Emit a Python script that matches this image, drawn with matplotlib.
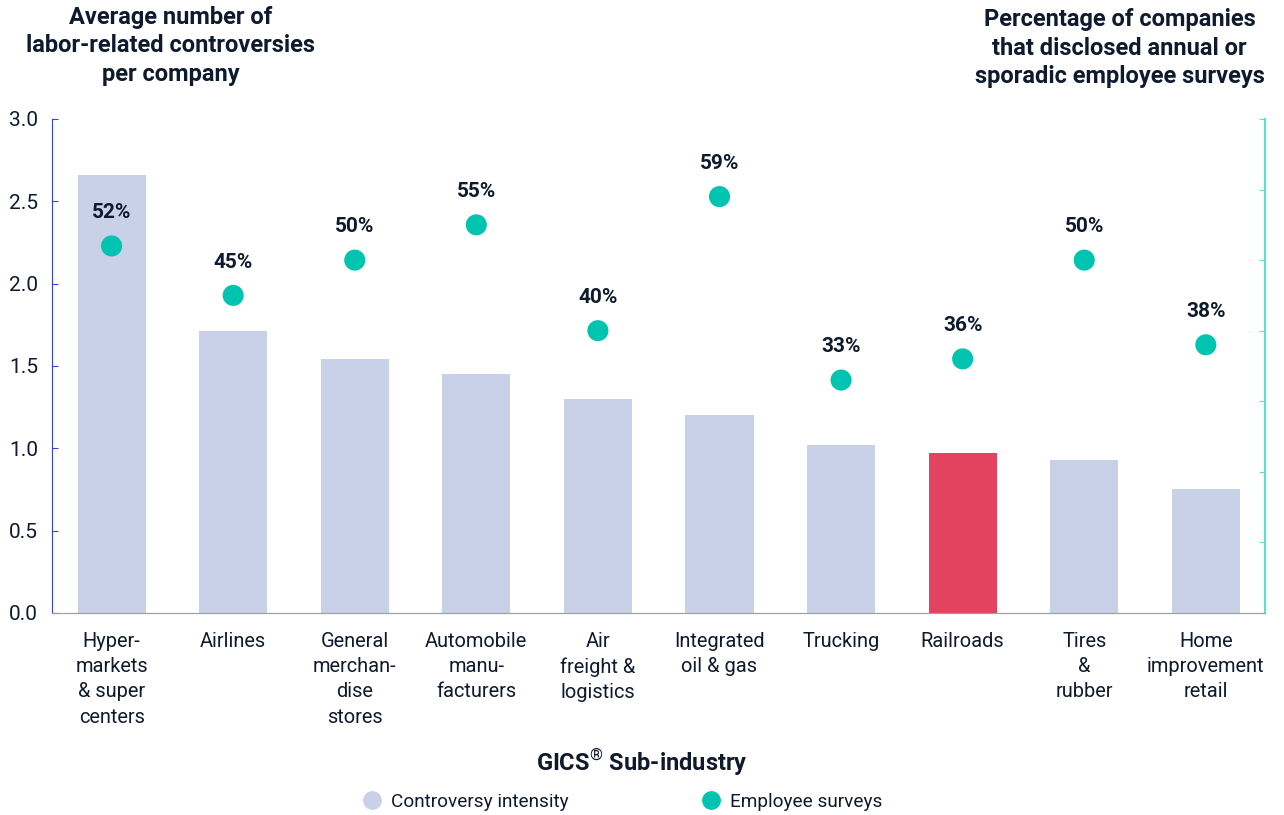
import matplotlib.pyplot as plt
from matplotlib.lines import Line2D

plt.rcParams['font.family'] = ['Roboto', 'DejaVu Sans']
plt.rcParams['mathtext.fontset'] = 'custom'
plt.rcParams['mathtext.rm'] = 'Roboto'
plt.rcParams['mathtext.bf'] = 'Roboto:bold'

categories = ['Hyper-\nmarkets\n& super\ncenters', 'Airlines', 'General\nmerchan-\ndise\nstores',
              'Automobile\nmanu-\nfacturers', 'Air\nfreight &\nlogistics', 'Integrated\noil & gas',
              'Trucking', 'Railroads', 'Tires\n&\nrubber', 'Home\nimprovement\nretail']
controversy = [2.66, 1.71, 1.54, 1.45, 1.30, 1.20, 1.02, 0.97, 0.93, 0.75]
surveys = [52, 45, 50, 55, 40, 59, 33, 36, 50, 38]
highlight = 'Railroads'

text_col = '#0f1a2e'
bar_col = '#c9d1e8'
hl_col = '#e3435e'
dot_col = '#00c4b0'

fig = plt.figure(figsize=(12.84, 8.15), dpi=100)
ax = fig.add_axes([0.0405, 0.248, 0.945, 0.606])
ax2 = ax.twinx()

x = list(range(len(categories)))
colors = [hl_col if c == highlight else bar_col for c in categories]
ax.bar(x, controversy, width=0.56, color=colors, zorder=2)
ax.set_xlim(-0.49, len(categories) - 0.51)
ax.set_ylim(0, 3.0)
yt = [0, 0.5, 1.0, 1.5, 2.0, 2.5, 3.0]
ax.set_yticks(yt)
ax.set_yticklabels([f'{v:.1f}' for v in yt])
ax.set_xticks(x)
ax.set_xticklabels(categories, fontsize=14.4, color=text_col, linespacing=1.42, va='top')
ax.tick_params(axis='x', length=0, pad=13.5)
ax.tick_params(axis='y', direction='in', length=4, color='#3344cc', labelsize=15,
               labelcolor=text_col, pad=10)

ax2.scatter(x, surveys, s=230, color=dot_col, zorder=3, edgecolors='none')
for xi, v in zip(x, surveys):
    ax2.annotate(f'{v}%', (xi, v), xytext=(0, 24), textcoords='offset points',
                 ha='center', va='center', fontsize=15, fontweight='bold', color=text_col)
ax2.set_ylim(0, 70)
ax2.set_yticks(range(0, 80, 10))
ax2.set_yticklabels([])
ax2.tick_params(axis='y', direction='in', length=4, color='#5ce0d0')

for a in (ax, ax2):
    a.spines['top'].set_visible(False)
    a.spines['bottom'].set_color('#a0a0a0')
ax.spines['left'].set_color('#3344cc')
ax.spines['right'].set_visible(False)
ax2.spines['left'].set_visible(False)
ax2.spines['right'].set_color('#5ce0d0')
ax2.spines['right'].set_linewidth(1.5)

fig.text(0.133, 0.9436, 'Average number of\nlabor-related controversies\nper company', ha='center', va='center',
         fontsize=17, fontweight='bold', color=text_col, linespacing=1.3)
fig.text(0.985, 0.941, 'Percentage of companies\nthat disclosed annual or\nsporadic employee surveys',
         ha='right', va='center', multialignment='center',
         fontsize=17, fontweight='bold', color=text_col, linespacing=1.3)
fig.text(0.5, 0.065, r'GICS$^{\mathrm{®}}$ Sub-industry', ha='center', va='center',
         fontsize=17, fontweight='bold', color=text_col)

handles = [Line2D([], [], marker='o', linestyle='none', markersize=12.5, color=bar_col),
           Line2D([], [], marker='o', linestyle='none', markersize=12.5, color=dot_col)]
fig.legend(handles, ['Controversy intensity', 'Employee surveys'], loc='center',
           bbox_to_anchor=(0.481, 0.016), ncol=2, frameon=False, fontsize=13.7,
           columnspacing=6.5, handletextpad=0.0, labelcolor=text_col)

fig.savefig('out.png', dpi=100)
